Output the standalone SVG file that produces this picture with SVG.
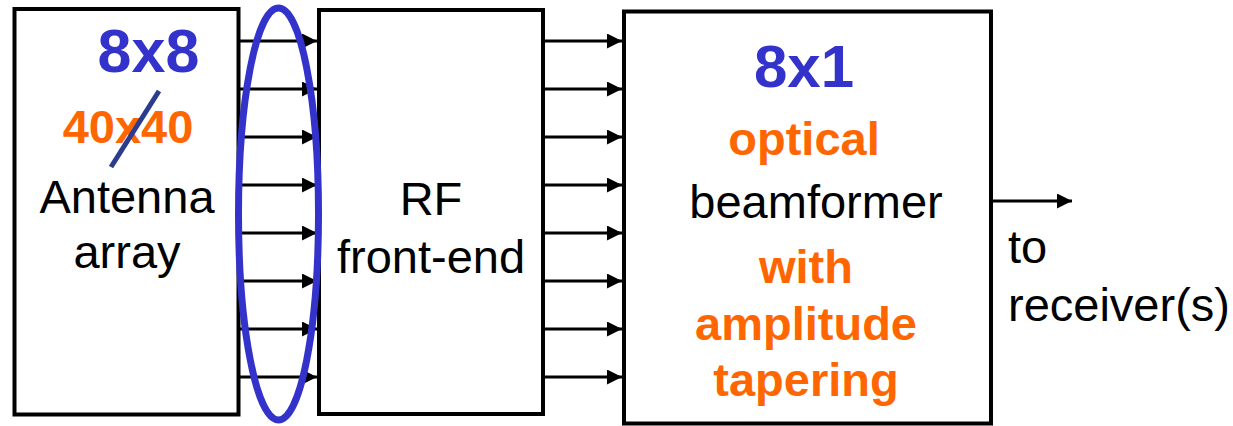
<svg xmlns="http://www.w3.org/2000/svg" width="1233" height="426" viewBox="0 0 1233 426">
<style>
.box{fill:#fff;stroke:#000;stroke-width:4}
.conn{stroke:#000;stroke-width:3;fill:none;marker-end:url(#ah)}
.t{font-family:"Liberation Sans",Arial,sans-serif;font-size:47px;fill:#000;text-anchor:middle}
.b{font-weight:bold}
.blue{fill:#3333CC}
.orange{fill:#FF6600}
</style>
<defs>
<marker id="ah" markerUnits="userSpaceOnUse" markerWidth="15" markerHeight="15" refX="15" refY="7.5" orient="auto">
<path d="M0,0 L15,7.5 L0,15 z" fill="#000"/>
</marker>
</defs>
<rect width="1233" height="426" fill="#fff"/>
<g id="antenna-array">
<rect class="box" x="14.5" y="9" width="224" height="405.5"/>
<text class="t b blue" x="148.5" y="72" style="font-size:61px">8x8</text>
<text class="t b orange" x="128" y="143">40x40</text>
<line x1="111" y1="167" x2="159" y2="91" stroke="#2B3C8E" stroke-width="5"/>
<text class="t" x="127" y="213">Antenna</text>
<text class="t" x="127" y="268">array</text>
</g>
<g id="rf-front-end">
<rect class="box" x="319" y="10" width="224" height="404"/>
<text class="t" x="431" y="215">RF</text>
<text class="t" x="431" y="273">front-end</text>
</g>
<g id="optical-beamformer">
<rect class="box" x="624" y="11.5" width="367" height="412"/>
<text class="t b blue" x="804" y="87" style="font-size:60px">8x1</text>
<text class="t b orange" x="804" y="155">optical</text>
<text class="t" x="816" y="218">beamformer</text>
<text class="t b orange" x="806" y="283">with</text>
<text class="t b orange" x="806" y="340">amplitude</text>
<text class="t b orange" x="806" y="396">tapering</text>
</g>
<g id="output-label">
<text class="t" x="1008" y="263" style="text-anchor:start">to</text>
<text class="t" x="1008" y="321" style="text-anchor:start">receiver(s)</text>
</g>
<g id="connectors">
<line class="conn" x1="240" y1="41" x2="317" y2="41"/>
<line class="conn" x1="240" y1="89" x2="317" y2="89"/>
<line class="conn" x1="240" y1="137" x2="317" y2="137"/>
<line class="conn" x1="240" y1="185" x2="317" y2="185"/>
<line class="conn" x1="240" y1="233" x2="317" y2="233"/>
<line class="conn" x1="240" y1="281" x2="317" y2="281"/>
<line class="conn" x1="240" y1="329" x2="317" y2="329"/>
<line class="conn" x1="240" y1="377" x2="317" y2="377"/>
<line class="conn" x1="545" y1="41" x2="622" y2="41"/>
<line class="conn" x1="545" y1="89" x2="622" y2="89"/>
<line class="conn" x1="545" y1="137" x2="622" y2="137"/>
<line class="conn" x1="545" y1="185" x2="622" y2="185"/>
<line class="conn" x1="545" y1="233" x2="622" y2="233"/>
<line class="conn" x1="545" y1="281" x2="622" y2="281"/>
<line class="conn" x1="545" y1="329" x2="622" y2="329"/>
<line class="conn" x1="545" y1="377" x2="622" y2="377"/>
<line class="conn" x1="993" y1="201" x2="1072" y2="201"/>
</g>
<g id="group-ellipse">
<ellipse cx="278.5" cy="214" rx="40" ry="206" fill="none" stroke="#3333CC" stroke-width="7"/>
</g>
</svg>
